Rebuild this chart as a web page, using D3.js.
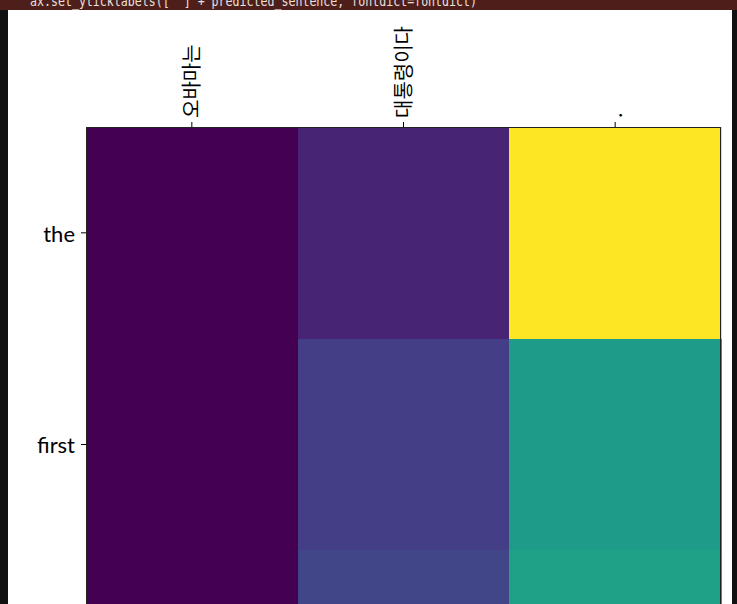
<!DOCTYPE html>
<html><head><meta charset="utf-8">
<script src="https://cdn.jsdelivr.net/npm/d3@7"></script>
<style>html,body{margin:0;padding:0;background:#111;overflow:hidden}</style>
</head><body>
<script>
const inputWords = ["오바마는", "대통령이다", "."];
const outputWords = ["the", "first", ""];
const attention = [
  [0.00, 0.09, 0.91],
  [0.00, 0.165, 0.50],
  [0.00, 0.19, 0.52]
];
const codeLine = "ax.set_yticklabels([''] + predicted_sentence, fontdict=fontdict)";

const W = 737, H = 604;
const svg = d3.select("body").append("svg").attr("width", W).attr("height", H);
svg.append("rect").attr("width", W).attr("height", H).attr("fill", "#111111");
svg.append("rect").attr("x", 8).attr("y", 0).attr("width", 724).attr("height", H).attr("fill", "#ffffff");
svg.append("rect").attr("x", 0).attr("y", 0).attr("width", W).attr("height", 10).attr("fill", "#4e1e1b");
svg.append("text").attr("x", 30).attr("y", 6).attr("fill", "#e8e0de")
  .attr("font-family", "DejaVu Sans Mono").attr("font-size", 14)
  .attr("textLength", 447).attr("lengthAdjust", "spacingAndGlyphs").text(codeLine);

const plotLeft = 86, plotTop = 127, plotRight = 721;
const cell = (plotRight - plotLeft) / inputWords.length;
const x = d3.scaleBand().domain(d3.range(inputWords.length)).range([plotLeft, plotRight]);
const y = d3.scaleBand().domain(d3.range(outputWords.length)).range([plotTop, plotTop + cell * outputWords.length]);
const flat = attention.flat();
const color = d3.scaleSequential(d3.interpolateViridis).domain([d3.min(flat), d3.max(flat)]);

const g = svg.append("g").attr("shape-rendering", "crispEdges");
attention.forEach((row, i) => row.forEach((v, j) => {
  g.append("rect").attr("x", x(j)).attr("y", y(i))
    .attr("width", x.bandwidth() + 1).attr("height", y.bandwidth() + 1)
    .attr("fill", color(v));
}));
svg.append("rect").attr("x", plotLeft + 0.5).attr("y", plotTop + 0.5)
  .attr("width", plotRight - plotLeft - 1).attr("height", cell * 3)
  .attr("fill", "none").attr("stroke", "#222").attr("stroke-width", 1);

const xAxis = d3.axisTop(x).tickSize(5).tickPadding(4).tickFormat(i => inputWords[i]);
const xa = svg.append("g").attr("transform", `translate(0,${plotTop})`).call(xAxis);
xa.select(".domain").remove();
xa.selectAll("line").attr("stroke", "#000");
xa.selectAll("text").attr("font-family", "Noto Sans CJK KR").attr("font-size", 20)
  .attr("fill", "#000").attr("text-anchor", "start").attr("dy", "0.35em")
  .attr("transform", "translate(0,-9) rotate(-90)").attr("x", 0).attr("y", 0);

const yAxis = d3.axisLeft(y).tickSize(5).tickPadding(6).tickFormat(i => outputWords[i]);
const ya = svg.append("g").attr("transform", `translate(${plotLeft},0)`).call(yAxis);
ya.select(".domain").remove();
ya.selectAll("line").attr("stroke", "#000");
ya.selectAll("text").attr("font-family", "Lato").attr("font-size", 22).attr("fill", "#000").attr("dy", "0.4em");
</script>
</body></html>
